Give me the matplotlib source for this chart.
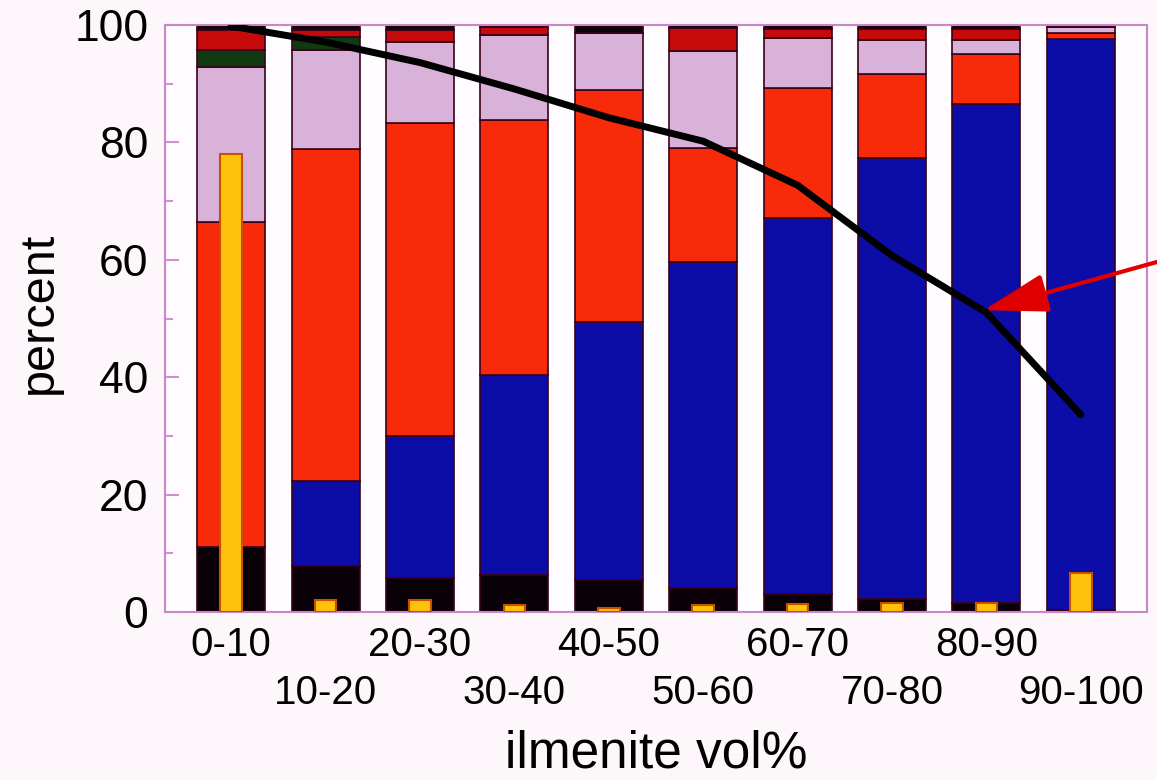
import matplotlib
matplotlib.use("Agg")
import matplotlib.pyplot as plt
import numpy as np
from matplotlib.ticker import MultipleLocator

plt.rcParams['font.family'] = ['Liberation Sans', 'DejaVu Sans']

# ilmenite volume classes
classes = ['0-10', '10-20', '20-30', '30-40', '40-50',
           '50-60', '60-70', '70-80', '80-90', '90-100']

# stacked components (percent), bottom to top
opaque   = [11.0, 7.8, 5.8, 6.3, 5.5, 4.1, 3.0, 2.2, 1.5, 0.4]
ilmenite = [0.0, 14.5, 24.1, 34.1, 43.9, 55.5, 64.2, 75.1, 85.0, 97.2]
pyroxene = [55.4, 56.5, 53.4, 43.5, 39.5, 19.5, 22.1, 14.3, 8.5, 1.1]
plag     = [26.4, 17.0, 13.8, 14.4, 9.7, 16.4, 8.5, 5.8, 2.4, 1.0]
olivine  = [3.0, 2.1, 0.0, 0.0, 0.0, 0.0, 0.0, 0.0, 0.0, 0.0]
glass    = [3.4, 1.3, 2.1, 1.3, 0.0, 4.0, 1.6, 1.9, 2.0, 0.0]

# narrow bars inside each class
yellow = [78.0, 2.0, 2.0, 1.2, 0.7, 1.2, 1.4, 1.6, 1.5, 6.6]

# cumulative curve
curve = [99.8, 97.1, 93.6, 89.1, 84.2, 80.2, 72.7, 60.7, 51.0, 33.6]

layers = [opaque, ilmenite, pyroxene, plag, olivine, glass]
colors = ['#0a0008', '#0c0ca6', '#f72a0a', '#d8b2d8', '#123a12', '#c40a0a']

fig = plt.figure(figsize=(11.57, 7.8), dpi=100, facecolor='#fdf6fb')
ax = fig.add_axes([165/1157, 1-612/780, 982/1157, 587/780])
ax.set_facecolor('#fffcff')

x = np.arange(len(classes))
bottom = np.zeros(len(classes))
for vals, c in zip(layers, colors):
    ax.bar(x, vals, width=0.72, bottom=bottom, color=c,
           edgecolor='#3a0018', linewidth=1.2, zorder=2)
    bottom += np.array(vals)
# remainder up to 100 %
ax.bar(x, 100 - bottom, width=0.72, bottom=bottom, color='#100008',
       edgecolor='#3a0018', linewidth=1.2, zorder=2)

ax.bar(x, yellow, width=0.23, color='#ffc20a', edgecolor='#c85000',
       linewidth=1.5, zorder=3)

ax.plot(x[:len(curve)], curve, color='black', lw=5,
        solid_capstyle='round', solid_joinstyle='round', zorder=4)

ax.annotate('', xy=(7.97, 51.4), xytext=(10.0, 60.5),
            arrowprops=dict(arrowstyle='-|>,head_length=1.0,head_width=0.3',
                            mutation_scale=40, color='#e00000', lw=3,
                            shrinkA=0, shrinkB=0),
            annotation_clip=False, zorder=5)

ax.set_xlim(-0.7, 9.7)
ax.set_ylim(0, 100)

ax.yaxis.set_major_locator(MultipleLocator(20))
ax.yaxis.set_minor_locator(MultipleLocator(10))
ax.tick_params(axis='y', which='major', direction='in', length=10,
               width=1.5, color='#d090d0', labelsize=32, pad=12)
ax.tick_params(axis='y', which='minor', direction='in', length=6,
               width=1.5, color='#d090d0')

ax.set_xticks(x)
ax.set_xticklabels(classes)
ax.tick_params(axis='x', length=0, labelsize=29)
for i, t in enumerate(ax.xaxis.get_major_ticks()):
    t.set_pad(10 if i % 2 == 0 else 45)

for s in ax.spines.values():
    s.set_color('#c888c8')
    s.set_linewidth(1.5)

ax.set_ylabel('percent', fontsize=35)
ax.yaxis.set_label_coords(-0.105, 0.51)
ax.set_xlabel('ilmenite vol%', fontsize=37)
ax.xaxis.set_label_coords(0.5, -0.2)

fig.savefig('out.png', dpi=100, facecolor=fig.get_facecolor())
